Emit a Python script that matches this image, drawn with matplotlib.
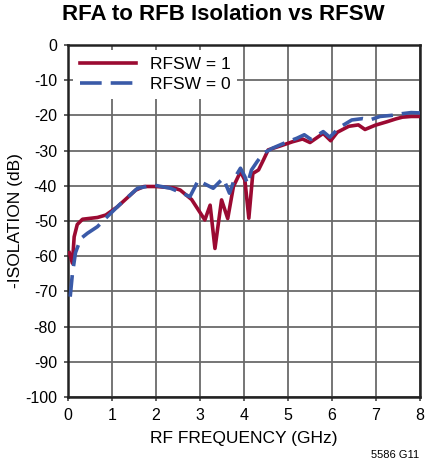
import matplotlib
matplotlib.use("Agg")
import matplotlib.pyplot as plt

plt.rcParams["axes.unicode_minus"] = False

# RFSW = 1 (solid red)
freq_1 = [0.03, 0.1, 0.14, 0.21, 0.33, 0.67, 0.86, 1.12, 1.54, 1.73, 2.0, 2.4, 2.55,
          2.81, 3.11, 3.23, 3.34, 3.49, 3.63, 3.76, 3.92, 4.02, 4.11, 4.2, 4.33, 4.44,
          4.55, 4.82, 5.1, 5.33, 5.5, 5.8, 5.97, 6.12, 6.38, 6.6, 6.75, 6.98, 7.25,
          7.45, 7.6, 7.8, 8.0]
iso_1 = [-59, -62, -54.5, -51, -49.5, -49, -48.3, -46, -41.2, -40.2, -40.2, -40.6, -41.2,
         -43.9, -49.7, -45.5, -57.8, -44, -49.3, -40.2, -36, -38.4, -49.2, -36.5, -35.5, -32.7,
         -29.8, -28.7, -27.5, -26.7, -27.7, -25.1, -27.2, -24.8, -23.1, -22.7, -24, -22.8, -21.8,
         -21.0, -20.5, -20.3, -20.3]

# RFSW = 0 (dashed blue)
freq_0 = [0.05, 0.1, 0.17, 0.29, 0.44, 0.67, 0.89, 1.16, 1.58, 1.95, 2.33, 2.6, 2.77,
          2.89, 2.96, 3.08, 3.3, 3.45, 3.53, 3.67, 3.8, 3.92, 4.02, 4.08, 4.17, 4.3,
          4.44, 4.65, 4.93, 5.2, 5.37, 5.52, 5.8, 5.95, 6.16, 6.45, 6.7, 6.86, 7.09,
          7.35, 7.6, 7.8, 8.0]
iso_0 = [-71.5, -65, -59, -55, -53.5, -51.6, -48.8, -45.5, -40.7, -39.8, -40.7, -42.1, -43.1,
         -40.2, -38.4, -39.3, -40.7, -38.8, -37.9, -42.1, -37.5, -35, -37.4, -39.5, -35.5, -33.1,
         -30.8, -29.3, -27.8, -26.5, -25.5, -26.8, -24.6, -26.2, -23.5, -21.3, -20.9, -21.3, -20.3,
         -20.0, -19.5, -19.2, -19.3]

x_ticks = list(range(0, 9))
y_ticks = list(range(-100, 1, 10))

red = "#9b0a32"
blue = "#3a5aa8"
fam = ["Liberation Sans", "DejaVu Sans"]

fig = plt.figure(figsize=(4.26, 4.65), dpi=100)
ax = fig.add_axes([68 / 426, 68 / 465, 352 / 426, 352 / 465])

ax.plot(freq_1, iso_1, color=red, lw=2.6, label="RFSW = 1", zorder=3)
ax.plot(freq_0, iso_0, color=blue, lw=2.6, dashes=(6, 2.5), label="RFSW = 0", zorder=4)

ax.set_xlim(0, 8)
ax.set_ylim(-100, 0)
ax.set_xticks(x_ticks)
ax.set_yticks(y_ticks)
ax.grid(True, color="#6a6a6a", lw=1.3)
ax.tick_params(length=3, width=1.2, color="#444444", pad=5, labelsize=11.5)
for lab in ax.get_xticklabels() + ax.get_yticklabels():
    lab.set_family(fam)
for s in ax.spines.values():
    s.set_linewidth(1.8)
    s.set_color("#222222")

ax.set_xlabel("RF FREQUENCY (GHz)", family=fam, fontsize=12.5)
ax.set_ylabel("-ISOLATION (dB)", family=fam, fontsize=12.5)
ax.xaxis.set_label_coords(0.5, -0.098)
ax.yaxis.set_label_coords(-0.128, 0.5)

leg = ax.legend(loc="upper left", frameon=True, fancybox=False, edgecolor="none",
                framealpha=1, prop={"family": fam, "size": 12.5},
                handlelength=3.2, borderaxespad=0.3, labelspacing=0.25)

fig.text(0.525, 0.968, "RFA to RFB Isolation vs RFSW", ha="center", va="center",
         family=fam, fontsize=16, fontweight="bold")
fig.text(0.985, 0.022, "5586 G11", ha="right", va="center", family=fam, fontsize=8)

fig.savefig("out.png", dpi=100)
